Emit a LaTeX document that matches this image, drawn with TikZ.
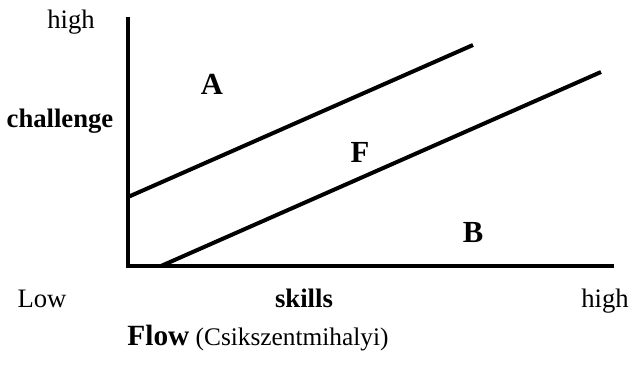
\documentclass[tikz,border=0pt]{standalone}
\usepackage{fontspec}
\setmainfont{Liberation Serif}
\tikzset{
  flaxis/.style={line width=3pt, draw=black, line cap=butt},
  flband/.style={line width=3pt, draw=black, line cap=butt},
  fltext/.style={font=\fontsize{20}{24}\selectfont, anchor=base, inner sep=0pt},
  flzone/.style={font=\fontsize{23}{27}\selectfont\bfseries, anchor=base, inner sep=0pt},
  fltitle/.style={font=\fontsize{19}{23}\selectfont, anchor=base, inner sep=0pt},
}
\begin{document}
\begin{tikzpicture}[x=0.75pt,y=-0.75pt]
\useasboundingbox (0,0) rectangle (642,377);
\coordinate (ytop) at (128,17);
\coordinate (origin) at (128,266);
\coordinate (xend) at (614,266);
\draw[flaxis] (ytop) -- (128,268);
\draw[flaxis] (126.5,266) -- (xend);
\draw[flband] (128,197) -- (473,45);
\draw[flband] (161,266) -- (601,72);
\node[fltext] (chigh) at (71,29) {high};
\node[fltext] (chal) at (60,128) {\bfseries challenge};
\node[flzone] (zA) at (212,95) {A};
\node[flzone] (zF) at (360,163) {F};
\node[flzone] (zB) at (473,243) {B};
\node[fltext] (slow) at (42,308) {Low};
\node[fltext] (skill) at (304,308) {\bfseries skills};
\node[fltext] (shigh) at (605,308) {high};
\node[fltitle] (title) at (258,345) {\textbf{\fontsize{22}{26}\selectfont Flow} (Csikszentmihalyi)};
\end{tikzpicture}
\end{document}
